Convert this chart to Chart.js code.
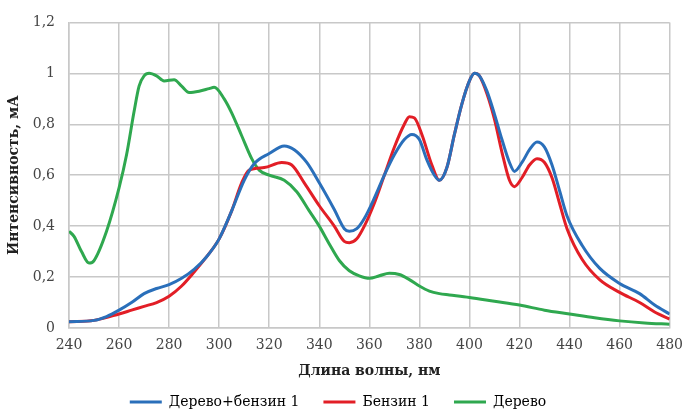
<!DOCTYPE html>
<html>
<head>
<meta charset="utf-8">
<script src="https://cdn.jsdelivr.net/npm/chart.js@4/dist/chart.umd.min.js"></script>
<style>
  html, body { margin: 0; padding: 0; background: #fff; }
  #wrap { width: 692px; height: 410px; }
</style>
</head>
<body>
<div id="wrap"><canvas id="myChart" width="692" height="410"></canvas></div>
<script>
// wavelength (nm) / intensity (mA)
var mixX = [240, 250, 255, 260, 265, 270, 275, 280, 285, 290, 295, 300, 305, 310, 314, 320, 326, 330, 335, 340, 346, 350, 352, 355, 358, 362, 366, 370, 374, 377, 380, 383, 386, 388, 391, 394, 397, 400, 402, 404, 407, 410, 413, 416, 418, 421, 424, 427, 430, 433, 436, 439, 445, 452, 460, 468, 474, 480];
var mixY = [0.025, 0.03, 0.045, 0.07, 0.10, 0.135, 0.155, 0.17, 0.195, 0.23, 0.28, 0.35, 0.46, 0.58, 0.645, 0.685, 0.715, 0.70, 0.65, 0.57, 0.465, 0.39, 0.38, 0.39, 0.43, 0.51, 0.60, 0.68, 0.74, 0.76, 0.74, 0.66, 0.60, 0.58, 0.63, 0.76, 0.88, 0.97, 1.0, 0.99, 0.93, 0.84, 0.74, 0.65, 0.615, 0.65, 0.70, 0.73, 0.71, 0.64, 0.54, 0.44, 0.325, 0.235, 0.175, 0.135, 0.09, 0.055];

var benzX = [240, 250, 260, 265, 270, 275, 280, 285, 290, 295, 300, 305, 309, 312, 318, 325, 329, 334, 340, 346, 350, 352, 355, 358, 362, 366, 370, 374, 376, 378, 381, 385, 388, 391, 394, 397, 400, 402, 404, 407, 410, 413, 416, 418, 421, 424, 427, 430, 433, 436, 439, 445, 452, 460, 468, 474, 480];
var benzY = [0.025, 0.03, 0.055, 0.07, 0.085, 0.10, 0.125, 0.165, 0.22, 0.28, 0.35, 0.46, 0.57, 0.62, 0.63, 0.65, 0.64, 0.57, 0.48, 0.40, 0.34, 0.335, 0.35, 0.40, 0.49, 0.60, 0.71, 0.80, 0.83, 0.825, 0.76, 0.64, 0.58, 0.63, 0.76, 0.88, 0.97, 1.0, 0.99, 0.92, 0.82, 0.69, 0.58, 0.555, 0.59, 0.64, 0.665, 0.65, 0.59, 0.49, 0.39, 0.27, 0.19, 0.14, 0.10, 0.063, 0.035];

var woodX = [240, 242, 245, 248, 250, 255, 260, 263, 266, 268, 270, 272, 275, 278, 282, 285, 288, 292, 296, 298, 302, 305, 309, 313, 316, 320, 326, 331, 336, 340, 344, 348, 352, 356, 360, 364, 368, 372, 376, 380, 384, 388, 392, 400, 410, 420, 430, 440, 450, 460, 470, 480];
var woodY = [0.38, 0.36, 0.30, 0.255, 0.265, 0.38, 0.55, 0.68, 0.85, 0.95, 0.99, 1.0, 0.99, 0.97, 0.975, 0.95, 0.925, 0.93, 0.94, 0.945, 0.90, 0.845, 0.755, 0.665, 0.62, 0.60, 0.58, 0.535, 0.46, 0.40, 0.33, 0.265, 0.225, 0.205, 0.195, 0.205, 0.215, 0.21, 0.19, 0.165, 0.145, 0.135, 0.13, 0.12, 0.105, 0.09, 0.07, 0.055, 0.04, 0.028, 0.02, 0.015];

var seriesNames = ['Дерево+бензин 1', 'Бензин 1', 'Дерево'];

function pts(xs, ys) {
  return xs.map(function (x, i) { return { x: x, y: ys[i] }; });
}

var serif = "'DejaVu Serif', 'Liberation Serif', serif";

var ctx = document.getElementById('myChart').getContext('2d');
var myChart = new Chart(ctx, {
  type: 'line',
  data: {
    datasets: [
      { label: seriesNames[0], data: pts(mixX, mixY), borderColor: '#2a6fba', backgroundColor: '#2a6fba' },
      { label: seriesNames[1], data: pts(benzX, benzY), borderColor: '#e21e26', backgroundColor: '#e21e26' },
      { label: seriesNames[2], data: pts(woodX, woodY), borderColor: '#2fa84f', backgroundColor: '#2fa84f' }
    ]
  },
  options: {
    responsive: false,
    animation: false,
    datasets: {
      line: { fill: false, pointRadius: 0, borderWidth: 3, cubicInterpolationMode: 'monotone' }
    },
    layout: { padding: { top: 14, right: 16, left: 0, bottom: -9 } },
    plugins: {
      tooltip: { enabled: false },
      legend: {
        position: 'bottom',
        labels: {
          font: { family: serif, size: 14 },
          color: '#333',
          boxWidth: 32,
          boxHeight: 0,
          padding: 24,
          generateLabels: function (chart) {
            return chart.data.datasets.map(function (ds, i) {
              return {
                text: ds.label, datasetIndex: i,
                strokeStyle: ds.borderColor, fillStyle: ds.borderColor,
                lineWidth: 3, hidden: false
              };
            });
          }
        }
      }
    },
    scales: {
      x: {
        type: 'linear', min: 240, max: 480,
        afterFit: function (scale) { scale.height = 43; },
        ticks: { stepSize: 20, color: '#444', font: { family: serif, size: 14 }, padding: 9 },
        grid: { color: '#c8c8c8', lineWidth: 1.5, drawTicks: false },
        border: { color: '#c8c8c8', width: 1.5 },
        title: { display: true, text: 'Длина волны, нм', color: '#222', font: { family: serif, size: 14, weight: 'bold' }, padding: { top: 0, bottom: -9 } }
      },
      y: {
        min: 0, max: 1.2,
        afterFit: function (scale) { scale.width = 69; },
        ticks: {
          stepSize: 0.2, color: '#444', font: { family: serif, size: 14 }, padding: 14,
          callback: function (v) { return (Math.round(v * 10) / 10).toString().replace('.', ','); }
        },
        grid: { color: '#c8c8c8', lineWidth: 1.5, drawTicks: false },
        border: { color: '#c8c8c8', width: 1.5 },
        title: { display: true, text: 'Интенсивность, мА', color: '#222', font: { family: serif, size: 14, weight: 'bold' }, padding: { top: 6, bottom: 0 } }
      }
    }
  }
});
</script>
</body>
</html>
